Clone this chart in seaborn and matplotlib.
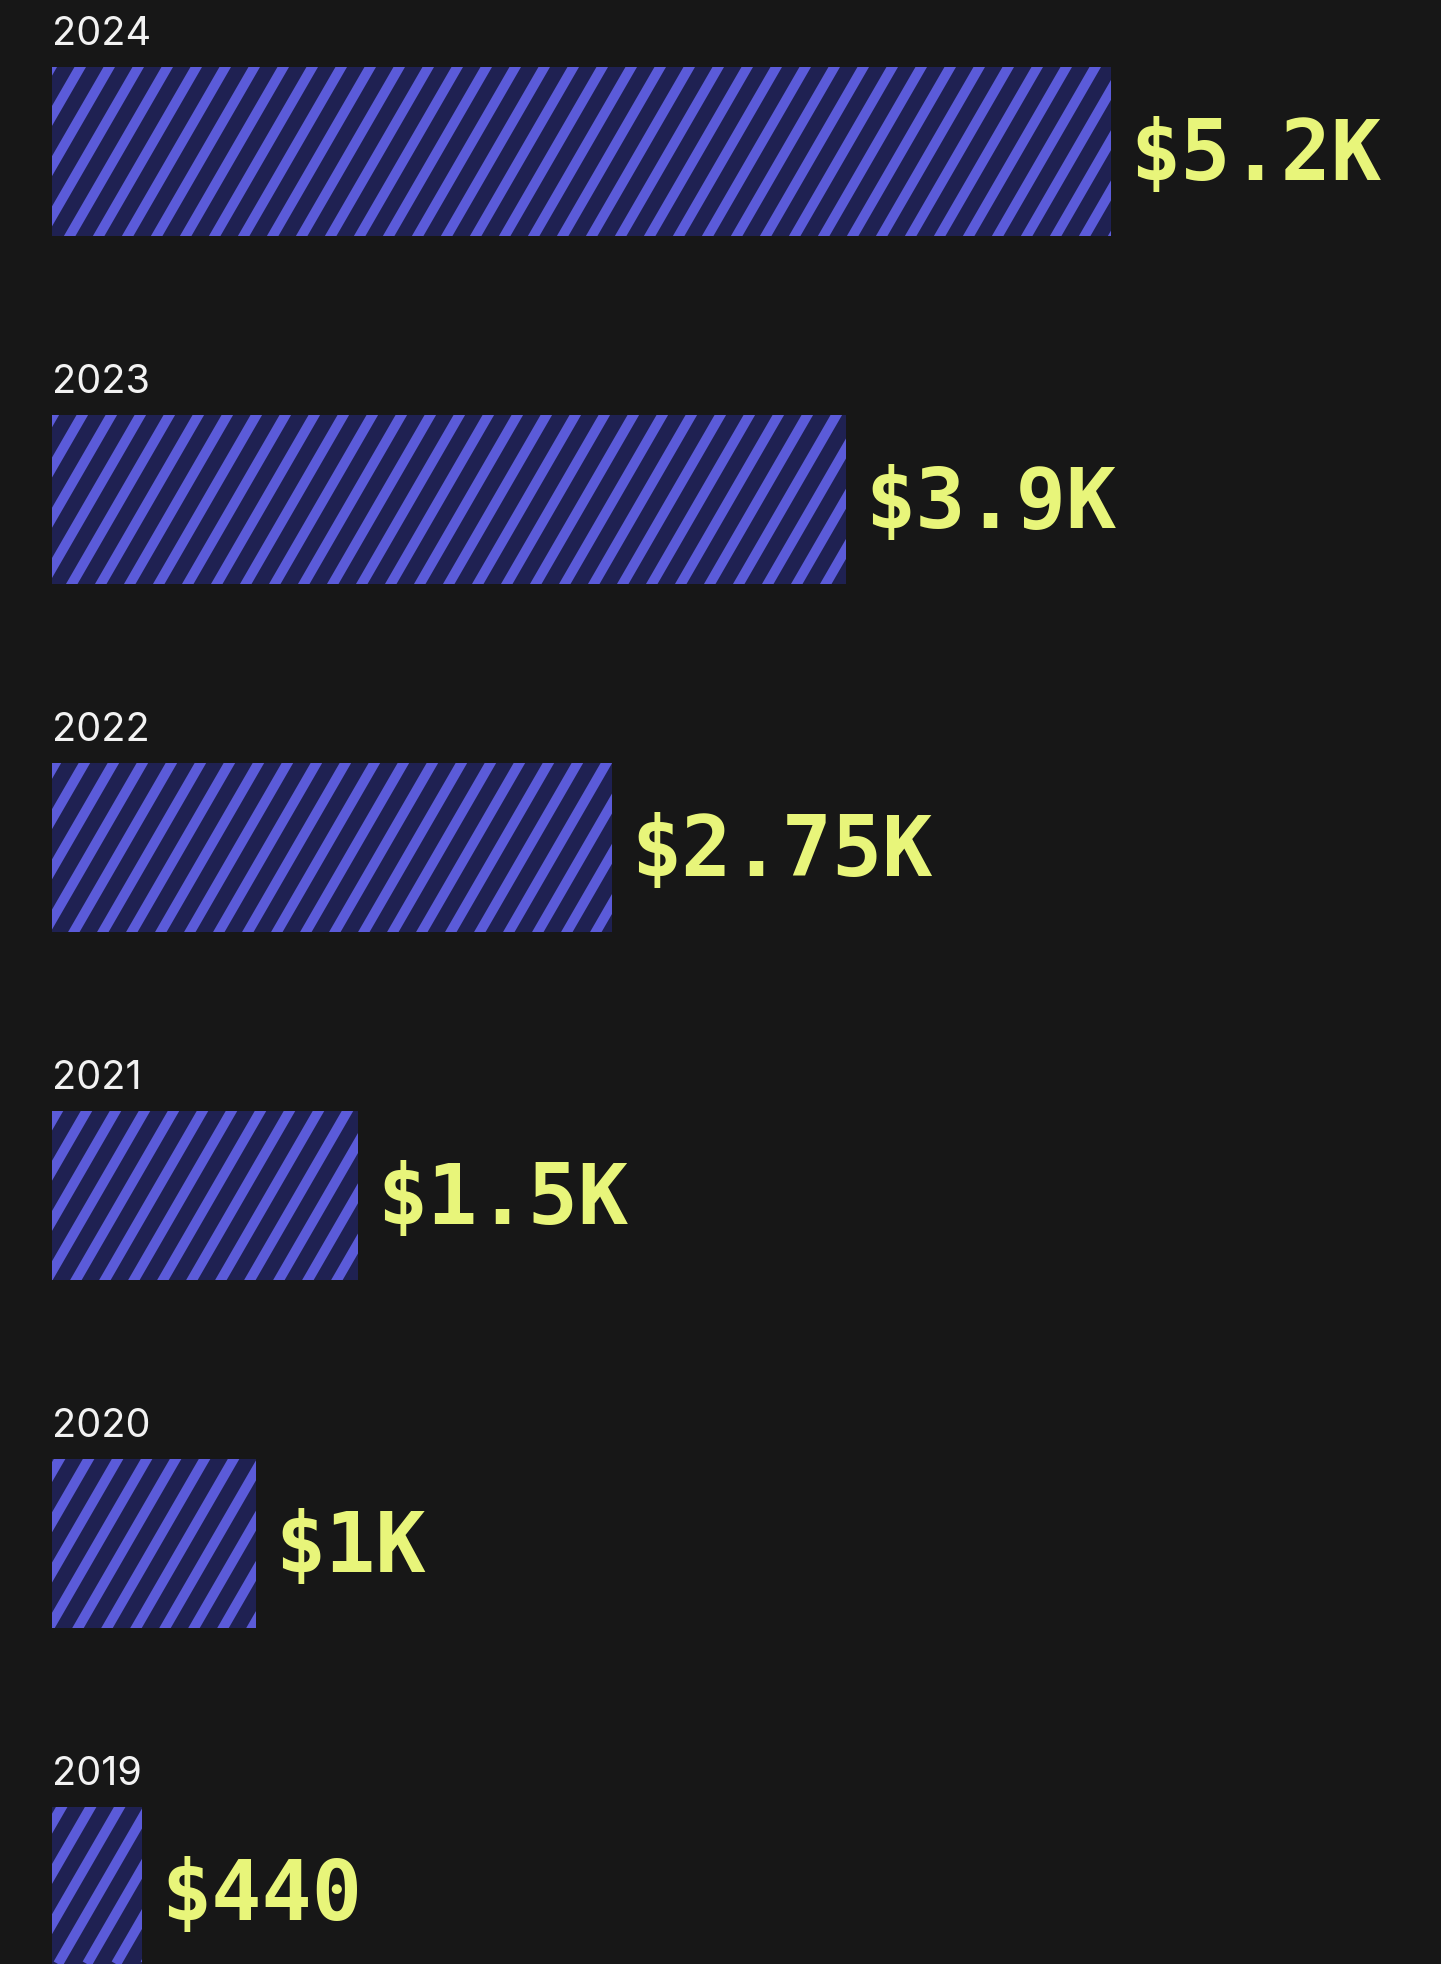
import numpy as np
import pandas as pd
import seaborn as sns
import matplotlib
matplotlib.use("Agg")
import matplotlib.pyplot as plt
from matplotlib.collections import LineCollection
from matplotlib.transforms import IdentityTransform

years = ["2024", "2023", "2022", "2021", "2020", "2019"]
values = [5200, 3900, 2750, 1500, 1000, 440]
labels = ["$5.2K", "$3.9K", "$2.75K", "$1.5K", "$1K", "$440"]

BG = "#171717"
BASE = "#1f2152"
STRIPE = "#5b5bd9"
LABEL = "#e8f57a"
YEARC = "#f2f2f2"

sns.set_theme(style="white")
plt.rcParams["font.family"] = ["Inter", "DejaVu Sans"]

W, H, DPI = 1441, 1964, 100
fig = plt.figure(figsize=(W / DPI, H / DPI), dpi=DPI, facecolor=BG)
ax = fig.add_axes([0, 0, 1, 1])
ax.set_facecolor(BG)

df = pd.DataFrame({"year": years, "value": values})
sns.barplot(data=df, x="value", y="year", order=years, orient="h",
            color=BASE, saturation=1, width=0.486, ax=ax, linewidth=0)

px_per_unit = 0.2037
left_px = 52
ax.set_xlim(-left_px / px_per_unit, (W - left_px) / px_per_unit)
pitch = 348.0
c0 = 151.5
ax.set_ylim((H - c0) / pitch, -c0 / pitch)
ax.axis("off")

fig.canvas.draw()

# diagonal stripes clipped to each bar (pixel space)
angle = np.deg2rad(60)
dx_total = H / np.tan(angle)
step = 29.0
segs = []
for k in np.arange(-200, 200):
    x0 = k * step
    segs.append([(x0, 0), (x0 + dx_total, H)])
bars = list(ax.patches)
for patch in bars:
    lc = LineCollection(segs, colors=STRIPE, linewidths=7.2,
                        transform=IdentityTransform(), capstyle="butt")
    ax.add_collection(lc, autolim=False)
    lc.set_clip_path(patch)

for i, (yr, v, lab) in enumerate(zip(years, values, labels)):
    ax.text(0, i - 0.243 - 0.063, yr, ha="left", va="baseline",
            fontsize=28.5, color=YEARC, fontfamily=["Inter", "DejaVu Sans"])
    ax.annotate(lab, xy=(v, i + 0.082), xytext=(14, 0),
                textcoords="offset points", ha="left", va="baseline",
                fontsize=60, color=LABEL, fontweight="bold",
                fontfamily=["DejaVu Sans Mono", "DejaVu Sans"])

fig.savefig("out.png", dpi=DPI, facecolor=BG)
